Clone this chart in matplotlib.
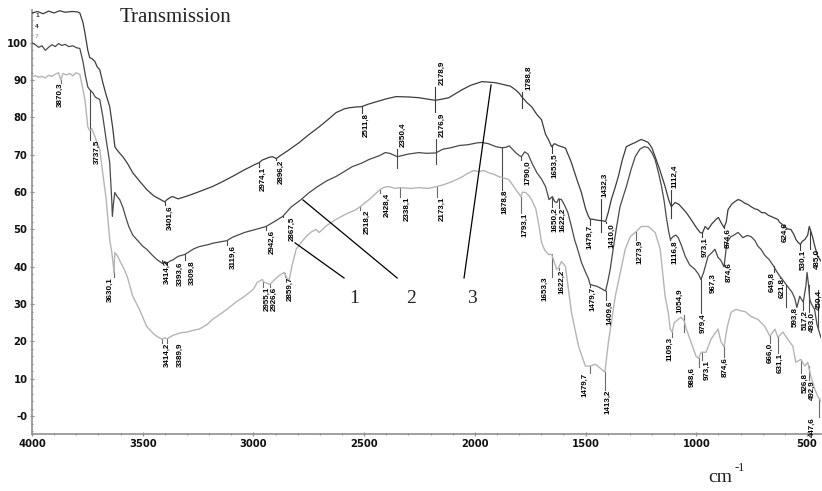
import numpy as np
import matplotlib
matplotlib.use("Agg")
import matplotlib.pyplot as plt
from matplotlib.ticker import MultipleLocator, FixedLocator

# ---------------- spectra: wavenumber (cm-1) / transmission (%) ----------------
# sample 3 (upper trace)
wn3 = [4000, 3975, 3950, 3925, 3900, 3875, 3850, 3820, 3795, 3784, 3770, 3761, 3752, 3748,
       3739, 3730, 3716, 3705, 3694, 3680, 3665, 3649, 3635, 3626, 3617, 3605, 3590, 3570,
       3545, 3515, 3482, 3450, 3420, 3401, 3390, 3375, 3365, 3340, 3302, 3260, 3220, 3185,
       3140, 3095, 3040, 2990, 2974, 2960, 2930, 2915, 2896, 2883, 2840, 2793, 2750, 2703,
       2660, 2627, 2590, 2568, 2540, 2512, 2480, 2446, 2400, 2356, 2300, 2253, 2210, 2179,
       2150, 2118, 2090, 2059, 2020, 1969, 1940, 1906, 1870, 1840, 1816, 1800, 1789, 1765,
       1744, 1720, 1699, 1681, 1667, 1654, 1640, 1625, 1609, 1591, 1575, 1564, 1540, 1519,
       1500, 1487, 1480, 1465, 1450, 1433, 1420, 1410, 1398, 1384, 1368, 1352, 1335, 1316,
       1295, 1276, 1260, 1249, 1235, 1217, 1200, 1186, 1165, 1141, 1125, 1113, 1105, 1096,
       1080, 1069, 1045, 1024, 1000, 983, 973, 960, 947, 930, 911, 900, 889, 875, 865, 857,
       840, 825, 812, 800, 780, 767, 753, 735, 722, 705, 690, 675, 663, 650, 632, 625, 615,
       600, 590, 573, 560, 550, 540, 530, 522, 510, 497, 490, 483, 475, 465, 452, 437]
t3 = [108.0, 108.4, 107.8, 108.5, 108.0, 108.6, 108.2, 108.4, 108.3, 108.0, 105.5, 102.7, 99.5, 98.0,
      96.0, 95.8, 95.0, 93.5, 92.8, 89.3, 86.0, 82.9, 77.0, 72.2, 71.4, 70.5, 69.5, 67.8,
      65.2, 63.0, 60.7, 59.0, 58.0, 57.4, 58.0, 58.6, 58.8, 58.2, 58.9, 59.8, 60.7, 61.5,
      62.8, 64.2, 66.0, 67.5, 67.9, 68.6, 69.3, 69.5, 69.0, 69.6, 71.3, 73.3, 75.4, 77.5,
      79.6, 81.3, 82.3, 82.6, 82.8, 82.9, 83.6, 84.2, 85.0, 85.6, 85.5, 85.3, 84.9, 84.6,
      84.9, 85.3, 86.3, 87.4, 88.6, 89.6, 89.5, 89.3, 88.8, 88.4, 87.4, 86.5, 85.6, 84.0,
      82.9, 80.8, 79.4, 75.5, 74.0, 72.2, 73.0, 72.5, 72.2, 71.8, 69.5, 67.9, 63.5, 59.9,
      55.5, 53.5, 52.8, 52.7, 52.5, 52.4, 52.3, 52.1, 54.5, 58.0, 61.0, 64.2, 68.5, 72.2,
      72.8, 73.3, 73.8, 74.1, 73.8, 73.3, 71.8, 69.5, 66.0, 61.5, 58.0, 56.1, 56.6, 57.2,
      56.8, 56.1, 54.5, 52.7, 50.5, 49.2, 49.0, 50.8, 50.0, 51.5, 52.7, 53.2, 51.9, 50.5, 52.0, 55.3,
      56.8, 57.5, 58.0, 57.8, 57.0, 56.7, 56.1, 55.5, 55.3, 54.5, 54.5, 53.8, 53.5, 53.2, 52.7, 52.0, 51.5,
      50.8, 50.2, 50.0, 48.7, 47.3, 46.5, 46.0, 46.8, 47.3, 48.5, 50.8, 49.5, 48.0, 45.5, 42.8, 41.5]

# sample 2 (middle trace)
wn2 = [4000, 3985, 3970, 3955, 3940, 3925, 3910, 3895, 3880, 3865, 3850, 3835, 3815, 3800,
       3784, 3770, 3758, 3748, 3740, 3725, 3715, 3694, 3680, 3665, 3649, 3640, 3637, 3632,
       3626, 3615, 3604, 3590, 3575, 3563, 3545, 3527, 3500, 3482, 3455, 3437, 3414, 3400,
       3392, 3375, 3365, 3340, 3310, 3270, 3245, 3200, 3185, 3140, 3120, 3095, 3040, 2990,
       2960, 2943, 2900, 2868, 2830, 2785, 2750, 2710, 2670, 2627, 2590, 2555, 2510, 2480,
       2430, 2405, 2385, 2350, 2300, 2253, 2220, 2177, 2145, 2108, 2070, 2032, 1990, 1969,
       1940, 1906, 1879, 1860, 1845, 1816, 1800, 1790, 1775, 1760, 1744, 1720, 1699, 1681,
       1665, 1650, 1640, 1630, 1622, 1609, 1595, 1580, 1564, 1550, 1535, 1519, 1500, 1487,
       1480, 1465, 1450, 1430, 1410, 1400, 1389, 1375, 1362, 1345, 1316, 1295, 1276, 1255,
       1235, 1217, 1200, 1186, 1170, 1157, 1145, 1136, 1125, 1117, 1105, 1092, 1082, 1069,
       1050, 1030, 1006, 990, 979, 967, 947, 930, 916, 902, 890, 875, 862, 845, 830, 812,
       800, 790, 770, 753, 735, 722, 708, 690, 672, 650, 640, 622, 610, 594, 585, 568, 555,
       546, 533, 517, 505, 500, 493, 488, 480, 466, 455, 437]
t2 = [100.0, 99.5, 98.8, 99.2, 98.0, 98.8, 99.5, 99.0, 99.8, 99.3, 99.6, 99.0, 99.2, 98.7,
      98.5, 95.0, 91.0, 88.2, 87.5, 86.6, 85.5, 84.8, 80.2, 74.0, 67.9, 58.0, 53.5, 57.0,
      59.9, 58.8, 58.0, 56.0, 53.0, 50.8, 48.5, 47.3, 45.5, 44.7, 43.0, 42.0, 41.0, 41.4,
      40.9, 41.6, 41.8, 42.8, 43.3, 44.8, 45.4, 46.0, 46.3, 46.8, 47.0, 47.9, 49.2, 50.0,
      50.5, 50.8, 52.3, 53.5, 56.0, 58.0, 59.8, 61.5, 63.0, 64.2, 65.5, 66.8, 67.8, 68.7,
      69.8, 70.6, 70.4, 69.5, 70.2, 70.6, 70.4, 70.5, 71.5, 71.9, 72.5, 72.7, 73.2, 73.3,
      73.0, 72.2, 71.9, 72.0, 72.4, 70.6, 69.8, 69.5, 70.8, 70.2, 68.0, 65.2, 63.5, 61.5,
      58.0, 58.8, 57.5, 57.2, 58.2, 58.0, 56.5, 54.5, 50.8, 47.3, 44.5, 41.2, 38.5, 36.8,
      35.3, 35.0, 34.8, 34.2, 33.5, 36.0, 39.3, 45.0, 50.0, 56.0, 61.5, 66.0, 69.5, 71.5,
      72.2, 71.9, 70.5, 68.7, 65.0, 61.5, 57.5, 53.5, 49.5, 47.3, 48.1, 48.5, 47.8, 46.0,
      42.8, 40.5, 39.3, 38.0, 36.6, 38.5, 42.8, 43.8, 44.7, 42.5, 41.8, 40.0, 46.5, 48.0, 48.5, 49.2,
      48.5, 47.8, 48.4, 48.1, 47.0, 45.5, 44.7, 43.0, 42.0, 40.1, 39.0, 37.4, 36.5, 35.2, 34.5, 33.2, 31.5,
      29.1, 32.1, 30.5, 35.0, 38.5, 35.0, 31.3, 30.0, 28.6, 24.5, 21.0]

# sample 1 (lower trace)
wn1 = [4000, 3985, 3970, 3955, 3940, 3925, 3910, 3895, 3880, 3870, 3860, 3845, 3830, 3815,
       3800, 3784, 3775, 3761, 3748, 3740, 3730, 3716, 3705, 3694, 3680, 3665, 3649, 3640,
       3632, 3630, 3626, 3615, 3600, 3585, 3570, 3545, 3515, 3482, 3450, 3437, 3414, 3400,
       3390, 3365, 3330, 3302, 3270, 3245, 3210, 3185, 3150, 3120, 3080, 3040, 3000, 2983,
       2960, 2955, 2940, 2926, 2900, 2880, 2861, 2850, 2838, 2825, 2807, 2785, 2762, 2740,
       2717, 2703, 2670, 2627, 2580, 2537, 2518, 2478, 2450, 2428, 2410, 2388, 2360, 2338,
       2290, 2253, 2210, 2173, 2140, 2104, 2060, 2028, 2005, 1983, 1960, 1938, 1915, 1893,
       1870, 1848, 1830, 1816, 1800, 1793, 1785, 1771, 1755, 1744, 1725, 1712, 1699, 1685,
       1667, 1653, 1640, 1631, 1622, 1609, 1591, 1564, 1532, 1501, 1479, 1456, 1429, 1413,
       1397, 1366, 1321, 1298, 1276, 1249, 1217, 1186, 1163, 1141, 1127, 1118, 1109, 1100,
       1082, 1069, 1055, 1045, 1024, 1001, 990, 978, 956, 934, 902, 889, 875, 860, 843, 821,
       800, 780, 753, 722, 690, 668, 645, 632, 609, 587, 564, 551, 528, 510, 497, 483, 465,
       452, 437]
t1 = [90.9, 91.2, 90.8, 91.0, 90.6, 91.3, 91.0, 91.6, 92.0, 90.0, 91.8, 91.4, 91.8, 91.2,
      92.0, 91.5, 89.0, 84.8, 77.5, 76.5, 77.0, 74.9, 73.0, 71.4, 65.0, 58.0, 47.3, 44.0,
      40.0, 38.5, 43.8, 43.0, 41.2, 39.5, 37.4, 32.1, 28.6, 24.0, 22.0, 21.4, 20.6, 21.0,
      20.7, 21.6, 22.3, 22.5, 23.0, 23.3, 24.5, 25.9, 27.3, 28.6, 30.5, 32.1, 34.0, 35.8,
      36.6, 36.0, 35.6, 35.3, 36.8, 37.8, 38.5, 37.0, 36.6, 40.5, 44.7, 46.5, 48.1, 49.3,
      50.0, 49.2, 51.0, 52.7, 54.2, 55.3, 56.1, 58.0, 59.5, 60.7, 61.3, 61.5, 61.0, 61.2,
      61.0, 61.2, 61.0, 61.5, 62.0, 62.8, 64.0, 65.2, 65.8, 65.5, 65.8, 65.2, 64.8, 64.2,
      63.8, 63.4, 62.0, 60.7, 59.5, 58.8, 60.0, 59.9, 59.0, 58.0, 55.5, 51.5, 46.5, 44.5,
      43.3, 43.3, 41.0, 39.3, 39.8, 41.4, 40.1, 27.8, 18.7, 13.4, 13.4, 13.9, 12.6, 11.8,
      19.8, 32.1, 44.7, 48.1, 49.2, 50.8, 50.8, 49.2, 44.7, 32.1, 27.8, 23.3, 22.5, 25.0,
      25.9, 26.5, 25.5, 23.3, 19.8, 16.0, 15.5, 17.1, 17.1, 20.6, 23.3, 20.0, 18.5, 24.0, 27.8, 28.6,
      28.2, 28.0, 26.7, 25.9, 24.0, 21.4, 23.3, 21.1, 22.5, 20.6, 18.7, 14.4, 15.2, 13.4, 14.4, 10.7, 7.2,
      5.3, 4.0]

# ---------------- peak labels (wavenumbers as printed) ----------------
peaks3 = ["3401,6", "2974,1", "2896,2", "2511,8", "2178,9", "1788,8", "1653,5", "1432,3",
          "1479,7", "1410,0", "1112,4", "973,1", "874,6", "624,6", "530,1", "485,0"]
peaks2 = ["3737,5", "3414,2", "3393,6", "3309,8", "3119,6", "2942,6", "2867,5", "2350,4",
          "2176,9", "1878,8", "1790,0", "1650,2", "1622,2", "1479,7", "1409,6", "1116,8",
          "979,4", "967,3", "874,6", "649,8", "621,8", "593,8", "517,2", "493,0", "450,4"]
peaks1 = ["3870,3", "3630,1", "3414,2", "3389,9", "2955,1", "2926,6", "2859,7", "2518,2",
          "2428,4", "2338,1", "2173,1", "1793,1", "1653,3", "1622,2", "1479,7", "1413,2",
          "1273,9", "1109,3", "1054,9", "988,6", "973,1", "874,6", "666,0", "631,1", "526,8",
          "492,9", "447,6"]

# label layout: text edge height (data units), side of the tick, horizontal shift (px)
pos3 = [56.5, 66.8, 68.6, 81.2, 88.7, 87.4, 70.5, 58.7, 51.2, 51.7, 61.1, 48.0, 50.4, 52.0, 44.5, 44.8]
side3 = ["b", "b", "b", "b", "a", "a", "b", "a", "b", "b", "a", "b", "b", "b", "b", "b"]
dx3 = [5.5, 4, 4.5, 4.5, 6.5, 6.7, 3.5, 4.5, 0, 6, 3.7, 3, 4, 5.7, 3, 7]

pos2 = [74.0, 41.8, 41.3, 41.8, 45.8, 49.9, 53.4, 72.1, 74.8, 60.6, 68.6, 56.0, 55.8, 34.6,
        31.1, 47.2, 27.6, 38.3, 41.3, 38.6, 37.0, 29.2, 28.4, 27.9, 33.8]
side2 = ["b", "b", "b", "b", "b", "b", "b", "a", "a", "b", "b", "b", "b", "b",
         "b", "b", "b", "b", "b", "b", "b", "b", "b", "b", "b"]
dx2 = [7, 5.3, 13.7, 7.2, 6, 6, 9.3, 5.8, 6, 3.4, 6.8, 2.7, 4.6, 3, 4.5, 4.6, 2.2, 9.6, 5,
       -1.7, 2.1, 8.9, 1.9, 3.6, 1]

pos1 = [89.3, 37.3, 19.6, 19.6, 34.6, 34.6, 37.3, 55.2, 59.8, 58.7, 58.7, 54.4, 37.3, 39.1,
        11.5, 7.0, 47.2, 21.2, 27.6, 13.1, 15.0, 15.8, 19.6, 16.9, 11.5, 9.7, -0.3]
side1 = ["b", "b", "b", "b", "b", "b", "b", "b", "b", "b", "b", "b", "b", "b",
         "b", "b", "b", "b", "a", "b", "b", "b", "b", "b", "b", "b", "b"]
dx1 = [-0.8, -3.9, 5.3, 12.9, 3.7, 4.3, 5.5, 6.9, 7.1, 7.1, 5.6, 4.4, -6.5, 3.6, -5, 3.4,
       4.4, -2, -4.1, -6.7, 4.8, 1, 0, 2.1, 4, 4, -6]

# leader lines linking the sample numbers to their traces
leaders = [((2812, 46.4), (2591, 37.0)),
           ((2776, 57.9), (2351, 37.0)),
           ((1927, 88.7), (2049, 37.0))]
sample_names = ["1", "2", "3"]
sample_pos = [(2546, 31.6), (2288, 31.6), (2013, 31.6)]

x_ticks = [4000, 3500, 3000, 2500, 2000, 1500, 1000, 500]
y_ticks = [100, 90, 80, 70, 60, 50, 40, 30, 20, 10, 0]
y_ticklabels = ["100", "90", "80", "70", "60", "50", "40", "30", "20", "10", "-0"]

DARK = "#3c3c3c"
MID = "#4a4a4a"
LIGHT = "#b5b5b5"
AXIS = "#909090"

fig = plt.figure(figsize=(8.22, 4.91), dpi=100)
ax = fig.add_axes([32 / 822, 57 / 491, 789 / 822, 424 / 491])

ax.plot(wn1, t1, color=LIGHT, lw=1.0, zorder=3)
ax.plot(wn2, t2, color=MID, lw=0.9, zorder=3)
ax.plot(wn3, t3, color=DARK, lw=0.9, zorder=3)

ax.set_xlim(4000, 437)
ax.set_ylim(-4.8, 108.8)


def draw_peaks(wn, t, names, ys, sides, dxs, color):
    xs = np.asarray(wn, float)[::-1]
    ts = np.asarray(t, float)[::-1]
    for name, y, side, dx in zip(names, ys, sides, dxs):
        x = float(name.replace(",", "."))
        yc = float(np.interp(x, xs, ts))
        if side == "b":
            ax.plot([x, x], [yc, y], color=color, lw=0.8, zorder=2)
            va = "top"
        else:
            ax.plot([x, x], [y - 0.6, yc - 3.0], color=color, lw=0.8, zorder=2)
            va = "bottom"
        ax.annotate(name, (x, y), xytext=(dx * 0.72, 0), textcoords="offset points",
                    rotation=90, ha="center", va=va, fontsize=5.8, fontweight="bold",
                    family="Liberation Sans", color="black", annotation_clip=False,
                    zorder=4)


draw_peaks(wn3, t3, peaks3, pos3, side3, dx3, DARK)
draw_peaks(wn2, t2, peaks2, pos2, side2, dx2, MID)
draw_peaks(wn1, t1, peaks1, pos1, side1, dx1, "#6a6a6a")

for (p0, p1) in leaders:
    ax.plot([p0[0], p1[0]], [p0[1], p1[1]], color="black", lw=0.9, zorder=4)
for name, (x, y) in zip(sample_names, sample_pos):
    ax.text(x, y, name, ha="center", va="center", fontsize=14,
            family="Liberation Serif", color="#222222")

# trace markers at the left edge
for mark, y, c in zip(["1", "4", "7"], [107.4, 104.4, 101.6], [DARK, DARK, LIGHT]):
    ax.text(3978, y, mark, fontsize=4, fontweight="bold", color=c, ha="center", va="center")

# axes styling
for s in ["top", "right"]:
    ax.spines[s].set_visible(False)
for s in ["left", "bottom"]:
    ax.spines[s].set_color(AXIS)
    ax.spines[s].set_linewidth(1.2)

ax.xaxis.set_major_locator(FixedLocator(x_ticks))
ax.xaxis.set_minor_locator(MultipleLocator(100))
ax.yaxis.set_major_locator(FixedLocator(y_ticks))
ax.yaxis.set_minor_locator(MultipleLocator(2))
ax.set_yticklabels(y_ticklabels)
ax.set_xticklabels([str(v) for v in x_ticks])
ax.tick_params(which="major", direction="inout", length=3.5, width=0.9, color=AXIS,
               labelsize=7.2, pad=1.5)
ax.tick_params(which="minor", direction="inout", length=2, width=0.8, color=AXIS)
for lab in ax.get_xticklabels() + ax.get_yticklabels():
    lab.set_fontweight("bold")
    lab.set_family("DejaVu Sans")
    lab.set_color("#111111")

fig.text(175 / 822, 1 - 18 / 491, "Transmission", ha="center", va="center",
         fontsize=15, family="Liberation Serif", color="#222222")
fig.text(720 / 822, 1 - 478 / 491, "cm", ha="center", va="center",
         fontsize=14, family="Liberation Serif", color="#222222")
fig.text(740 / 822, 1 - 468 / 491, "-1", ha="center", va="center",
         fontsize=9, family="Liberation Serif", color="#222222")

fig.savefig("out.png", dpi=100)
